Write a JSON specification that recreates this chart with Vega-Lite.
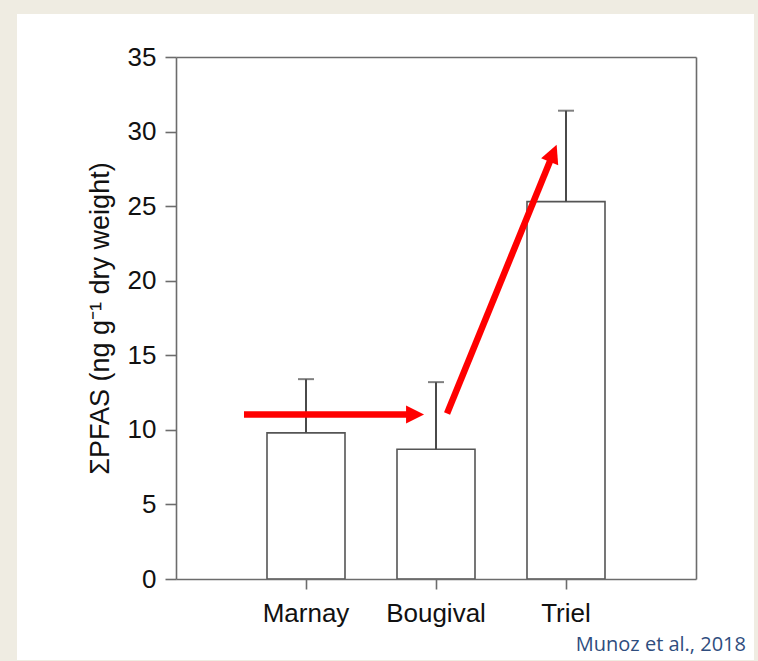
{
  "$schema": "https://vega.github.io/schema/vega-lite/v6.json",
  "width": 520,
  "height": 522,
  "autosize": {"type": "none"},
  "padding": {"left": 176, "top": 57, "right": 62, "bottom": 82},
  "background": "#efece2",
  "config": {
    "view": {"stroke": null},
    "font": "Liberation Sans",
    "axis": {
      "grid": false,
      "domainColor": "#6c6c6c",
      "domainWidth": 1.6,
      "tickColor": "#6c6c6c",
      "tickWidth": 1.6,
      "labelFont": "Liberation Sans",
      "labelColor": "#111111",
      "titleFont": "Liberation Sans",
      "titleColor": "#111111",
      "titleFontWeight": "normal"
    }
  },
  "title": {
    "text": "Munoz et al., 2018",
    "orient": "bottom",
    "anchor": "end",
    "frame": "group",
    "dx": 50,
    "offset": 0,
    "dy": -25,
    "baseline": "top",
    "font": "Open Sans",
    "fontSize": 20,
    "fontWeight": "normal",
    "color": "#2f4d7e"
  },
  "datasets": {
    "sites": [
      {"site": "Marnay", "mean": 9.8, "upper": 13.4},
      {"site": "Bougival", "mean": 8.7, "upper": 13.2},
      {"site": "Triel", "mean": 25.3, "upper": 31.4}
    ],
    "arrows": [
      {"id": "flat", "x0": 0.523, "y0": 11.03, "x1": 1.8, "y1": 11.03, "tipx": 1.908, "tipy": 11.03},
      {"id": "rise", "x0": 2.085, "y0": 11.1, "x1": 2.894, "y1": 28.38, "tipx": 2.928, "tipy": 29.12}
    ]
  },
  "layer": [
    {
      "data": {"values": [{}]},
      "mark": {"type": "rect", "fill": "#ffffff", "clip": false},
      "encoding": {
        "x": {
          "datum": -1.223,
          "type": "quantitative",
          "scale": {"domain": [0, 4], "nice": false, "zero": false},
          "axis": {"orient": "top", "ticks": false, "labels": false, "title": null, "zindex": 2}
        },
        "x2": {"datum": 4.446},
        "y": {
          "datum": 37.88,
          "type": "quantitative",
          "scale": {"domain": [0, 35], "nice": false},
          "axis": {"orient": "right", "ticks": false, "labels": false, "title": null, "zindex": 2}
        },
        "y2": {"datum": -5.43}
      }
    },
    {
      "data": {"name": "sites"},
      "encoding": {
        "x": {
          "field": "site",
          "type": "nominal",
          "sort": ["Marnay", "Bougival", "Triel"],
          "scale": {"paddingInner": 0.4, "paddingOuter": 0.7},
          "axis": {
            "title": null,
            "labelAngle": 0,
            "labelFontSize": 26,
            "labelPadding": 11,
            "tickSize": 10,
            "zindex": 2
          }
        }
      },
      "layer": [
        {
          "mark": {"type": "bar", "fill": "#ffffff", "stroke": "#555555", "strokeWidth": 1.6},
          "encoding": {
            "y": {
              "field": "mean",
              "type": "quantitative",
              "scale": {"domain": [0, 35], "nice": false},
              "axis": {
                "values": [0, 5, 10, 15, 20, 25, 30, 35],
                "title": "ΣPFAS (ng g⁻¹ dry weight)",
                "titleFontSize": 27,
                "titlePadding": 13,
                "labelFontSize": 26,
                "labelPadding": 9,
                "tickSize": 11,
                "zindex": 2
              }
            }
          }
        },
        {
          "mark": {"type": "rule", "color": "#4a4a4a", "strokeWidth": 2},
          "encoding": {
            "y": {"field": "mean", "type": "quantitative"},
            "y2": {"field": "upper"}
          }
        },
        {
          "mark": {"type": "tick", "color": "#4a4a4a", "thickness": 2, "size": 16},
          "encoding": {
            "y": {"field": "upper", "type": "quantitative"}
          }
        }
      ]
    },
    {
      "data": {"name": "arrows"},
      "encoding": {
        "x": {
          "type": "quantitative",
          "scale": {"domain": [0, 4], "nice": false, "zero": false},
          "axis": null
        }
      },
      "layer": [
        {
          "mark": {"type": "rule", "color": "#ff0000", "strokeWidth": 6.5, "strokeCap": "butt"},
          "encoding": {
            "x": {"field": "x0", "type": "quantitative"},
            "x2": {"field": "x1"},
            "y": {"field": "y0", "type": "quantitative", "axis": null},
            "y2": {"field": "y1"}
          }
        },
        {
          "transform": [{"filter": "datum.id === 'flat'"}],
          "mark": {"type": "point", "shape": "M0,0L1,2L-1,2Z", "filled": true, "color": "#ff0000", "opacity": 1, "size": 324, "angle": 90},
          "encoding": {
            "x": {"field": "tipx", "type": "quantitative"},
            "y": {"field": "tipy", "type": "quantitative", "axis": null}
          }
        },
        {
          "transform": [{"filter": "datum.id === 'rise'"}],
          "mark": {"type": "point", "shape": "M0,0L1,2L-1,2Z", "filled": true, "color": "#ff0000", "opacity": 1, "size": 340, "angle": 22.2},
          "encoding": {
            "x": {"field": "tipx", "type": "quantitative"},
            "y": {"field": "tipy", "type": "quantitative", "axis": null}
          }
        }
      ]
    }
  ],
  "resolve": {
    "scale": {"x": "independent"},
    "axis": {"x": "independent", "y": "independent"}
  }
}
